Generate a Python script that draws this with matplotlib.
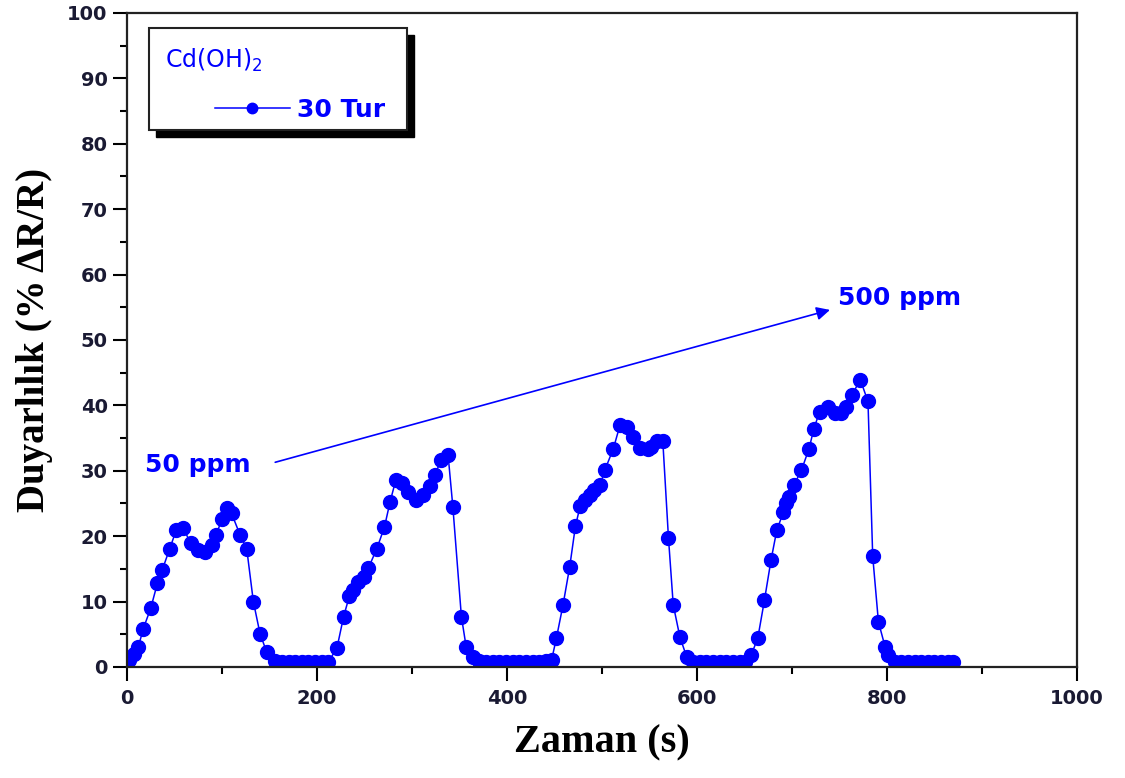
import matplotlib
matplotlib.use("Agg")
import matplotlib.pyplot as plt
from matplotlib.patches import Rectangle
from matplotlib.ticker import MultipleLocator

# Cd(OH)2, 30 Tur - response vs time
time_s = [
    2, 7, 12, 17, 25, 32, 37, 45, 52, 59, 67, 75, 82, 89, 94, 100, 105, 110,
    119, 126, 133, 140, 147, 156,
    163, 170, 177, 184, 191, 198, 205, 212,
    221, 228, 234, 238, 243, 249, 254, 263, 271, 277, 283, 289, 296, 304,
    312, 319, 324, 331, 338, 343, 352, 357, 364,
    371, 378, 385, 392, 399, 406, 413, 420, 427, 434, 441, 447,
    452, 459, 466, 472, 477, 482, 487, 492, 498, 503, 512, 519, 526, 533,
    540, 548, 552, 558, 564, 570, 575, 582, 589,
    596, 603, 610, 617, 624, 631, 638, 645, 651,
    657, 664, 671, 678, 684, 691, 694, 697, 702, 710, 718, 723, 729, 738,
    745, 752, 757, 763, 772, 780, 785, 791, 798, 801,
    808, 815, 822, 829, 836, 843, 850, 857, 864, 870,
]
response = [
    1.1, 2.0, 3.1, 5.8, 9.0, 12.8, 14.8, 18.1, 21.0, 21.2, 19.0, 17.9, 17.6,
    18.7, 20.2, 22.7, 24.3, 23.5, 20.2, 18.1, 10.0, 5.1, 2.3, 0.9,
    0.8, 0.8, 0.8, 0.8, 0.8, 0.8, 0.8, 0.8,
    2.9, 7.7, 10.8, 11.8, 13.0, 13.8, 15.1, 18.1, 21.4, 25.3, 28.6, 28.1,
    26.8, 25.6, 26.3, 27.6, 29.4, 31.7, 32.4, 24.5, 7.7, 3.1, 1.6,
    0.9, 0.8, 0.8, 0.8, 0.8, 0.8, 0.8, 0.8, 0.8, 0.8, 0.9, 1.1,
    4.4, 9.5, 15.3, 21.5, 24.6, 25.5, 26.3, 27.1, 27.8, 30.1, 33.4, 37.0,
    36.7, 35.2, 33.5, 33.3, 33.6, 34.6, 34.6, 19.7, 9.5, 4.6, 1.6,
    0.8, 0.7, 0.7, 0.7, 0.7, 0.7, 0.7, 0.7, 0.8,
    1.8, 4.4, 10.2, 16.4, 20.9, 23.7, 25.0, 26.0, 27.8, 30.1, 33.4, 36.4,
    39.0, 39.8, 38.8, 38.8, 39.8, 41.6, 43.9, 40.6, 16.9, 6.9, 3.1, 1.8,
    0.8, 0.7, 0.7, 0.7, 0.7, 0.7, 0.7, 0.7, 0.7, 0.7,
]

# arrow annotation, 50 ppm -> 500 ppm (data coordinates)
arrow_start = (156, 31.3)
arrow_end = (740, 54.6)
label_low = "50 ppm"
label_high = "500 ppm"

blue = "#0000FF"

fig = plt.figure(figsize=(11.25, 7.78), dpi=100)
ax = fig.add_axes([0.1129, 0.1427, 0.8444, 0.8406])

ax.plot(
    time_s, response,
    color=blue, lw=1.1, marker="o", markersize=10,
    markerfacecolor=blue, markeredgecolor=blue, label="30 Tur",
)

ax.set_xlim(0, 1000)
ax.set_ylim(0, 100)
ax.xaxis.set_major_locator(MultipleLocator(200))
ax.xaxis.set_minor_locator(MultipleLocator(100))
ax.yaxis.set_major_locator(MultipleLocator(10))
ax.yaxis.set_minor_locator(MultipleLocator(5))
ax.tick_params(which="major", direction="out", length=10, width=1.5,
               labelsize=14, pad=6)
ax.tick_params(which="minor", direction="out", length=5, width=1.5)
ax.tick_params(axis="y", which="major", pad=4)
for lbl in ax.get_xticklabels() + ax.get_yticklabels():
    lbl.set_fontweight("bold")
    lbl.set_color("#1a1a33")
for sp in ax.spines.values():
    sp.set_linewidth(1.6)
    sp.set_color("#222222")

ax.set_xlabel("Zaman (s)", family="Liberation Serif", fontweight="bold",
              fontsize=29, labelpad=12)
ax.set_ylabel("Duyarlılık (% ΔR/R)", family="Liberation Serif",
              fontweight="bold", fontsize=28, labelpad=10)

# arrow and concentration labels
ax.annotate(
    "", xy=arrow_end, xytext=arrow_start,
    arrowprops=dict(arrowstyle="-|>", color=blue, lw=1.2,
                    mutation_scale=20, shrinkA=0, shrinkB=0),
)
ax.text(19, 30.9, label_low, color=blue, fontsize=18, fontweight="bold",
        ha="left", va="center")
ax.text(748, 56.4, label_high, color=blue, fontsize=18, fontweight="bold",
        ha="left", va="center")

# legend box with a hard black shadow
bx, by, bw, bh = 0.0232, 0.8211, 0.2716, 0.156
ax.add_patch(Rectangle((bx + 0.0068, by - 0.0105), bw, bh,
                       transform=ax.transAxes, facecolor="black",
                       edgecolor="black", zorder=5))
ax.add_patch(Rectangle((bx, by), bw, bh, transform=ax.transAxes,
                       facecolor="white", edgecolor="#222222", lw=1.5,
                       zorder=6))
ax.text(0.040, 0.928, "Cd(OH)$_2$", transform=ax.transAxes, color=blue,
        fontsize=17, ha="left", va="center", zorder=7)
leg = ax.legend(
    loc="center left", bbox_to_anchor=(0.0926, 0.8517), frameon=False,
    borderpad=0, borderaxespad=0, handlelength=3.0, handletextpad=0.3,
    markerscale=0.75, prop={"size": 18, "weight": "bold"},
)
leg.set_zorder(8)
for t in leg.get_texts():
    t.set_color(blue)

fig.savefig("out.png", dpi=100)
